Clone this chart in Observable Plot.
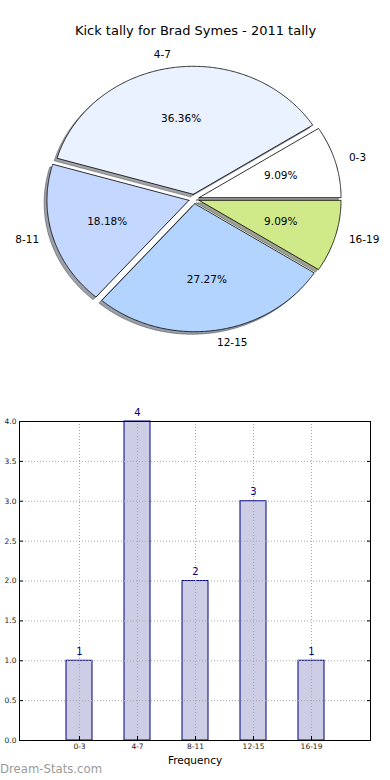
<!DOCTYPE html>
<html>
<head>
<meta charset="utf-8">
<script src="https://cdn.jsdelivr.net/npm/d3@7"></script>
<script src="https://cdn.jsdelivr.net/npm/@observablehq/plot@0.6"></script>
<style>
  body { margin: 0; background: white; font-family: "DejaVu Sans", sans-serif; }
  #wrap { position: relative; width: 390px; height: 780px; overflow: hidden; }
  #wrap svg { display: block; }
  #mark { position: absolute; left: 0; top: 762px; font: 11.7px "DejaVu Sans", sans-serif; color: #9a9a9a; }
</style>
</head>
<body>
<div id="wrap"></div>
<script>
// ---- data ----
const title = "Kick tally for Brad Symes - 2011 tally";
const categories = ["0-3", "4-7", "8-11", "12-15", "16-19"];
const counts = [1, 4, 2, 3, 1];
const pieColors = ["#ffffff", "#eaf1ff", "#c4d8ff", "#b3d4ff", "#d0ea8a"];
const yTicks = [0, 0.5, 1, 1.5, 2, 2.5, 3, 3.5, 4];
const xLabel = "Frequency";
const watermark = "Dream-Stats.com";

const font = "DejaVu Sans, sans-serif";
const total = d3.sum(counts);

// ---- pie geometry (unit circle, counterclockwise from 3 o'clock) ----
const explode = 0.037;
let acc = 0;
const slices = categories.map((cat, i) => {
  const a0 = acc / total * 2 * Math.PI;
  acc += counts[i];
  const a1 = acc / total * 2 * Math.PI;
  const mid = (a0 + a1) / 2;
  const ox = explode * Math.cos(mid), oy = explode * Math.sin(mid);
  const n = Math.max(2, Math.ceil((a1 - a0) / (Math.PI / 360)));
  const pts = [{x: ox, y: oy}];
  for (let k = 0; k <= n; k++) {
    const a = a0 + (a1 - a0) * k / n;
    pts.push({x: ox + Math.cos(a), y: oy + Math.sin(a)});
  }
  pts.push({x: ox, y: oy});
  return {
    cat, color: pieColors[i], pts, mid, ox, oy,
    pct: (counts[i] / total * 100).toFixed(2) + "%"
  };
});

function darker(c) {
  const r = d3.rgb(c);
  return d3.rgb(r.r * 0.3, r.g * 0.3, r.b * 0.3).formatHex();
}
const shOff = 0.02;

const pieMarks = [];
slices.forEach(s => {
  pieMarks.push(Plot.line(s.pts, {
    x: d => d.x + (-shOff), y: d => d.y + (-shOff),
    fill: darker(s.color), fillOpacity: 0.5, stroke: darker(s.color), strokeOpacity: 0.5, strokeWidth: 1
  }));
});
slices.forEach(s => {
  pieMarks.push(Plot.line(s.pts, {
    x: "x", y: "y", fill: s.color, stroke: "black", strokeWidth: 0.8, strokeLinejoin: "miter"
  }));
});
pieMarks.push(Plot.text(slices, {
  x: s => s.ox + 0.6 * Math.cos(s.mid), y: s => s.oy + 0.6 * Math.sin(s.mid),
  text: "pct", fontSize: 10.5, fill: "black", textAnchor: "middle"
}));
pieMarks.push(Plot.text(slices.filter(s => Math.cos(s.mid) > 0), {
  x: s => s.ox + 1.1 * Math.cos(s.mid), y: s => s.oy + 1.1 * Math.sin(s.mid),
  text: "cat", fontSize: 10.5, fill: "black", textAnchor: "start"
}));
pieMarks.push(Plot.text(slices.filter(s => Math.cos(s.mid) <= 0), {
  x: s => s.ox + 1.1 * Math.cos(s.mid), y: s => s.oy + 1.1 * Math.sin(s.mid),
  text: "cat", fontSize: 10.5, fill: "black", textAnchor: "end"
}));
pieMarks.push(Plot.text([title], {
  frameAnchor: "top", dy: 30, lineAnchor: "middle", fontSize: 13, fill: "black"
}));

// center at (193.5, 198.5), rx 142, ry 128
const cx = 193.5, cy = 198.5, rx = 142, ry = 128, pieH = 400;
const pie = Plot.plot({
  width: 390, height: pieH, margin: 0,
  style: {fontFamily: font, background: "white", overflow: "visible"},
  x: {domain: [-cx / rx, (390 - cx) / rx], axis: null},
  y: {domain: [(cy - pieH) / ry, cy / ry], axis: null},
  marks: pieMarks
});

// ---- bar chart ----
const barData = categories.map((c, i) => ({cat: c, count: counts[i]}));
const gridStyle = {stroke: "#a8a8a8", strokeOpacity: 1, strokeWidth: 1, strokeDasharray: "1,2"};
const bar = Plot.plot({
  width: 390, height: 380,
  marginLeft: 19, marginRight: 20, marginTop: 21, marginBottom: 40,
  style: {fontFamily: font, background: "white", overflow: "visible"},
  x: {domain: categories, paddingInner: 0.555, paddingOuter: 0.7775, align: 0.5},
  y: {domain: [0, 4]},
  marks: [
    Plot.barY(barData, {x: "cat", y: "count", fill: "#cdcde5", stroke: "#000080", strokeWidth: 1}),
    Plot.gridX(categories, gridStyle),
    Plot.gridY(yTicks, gridStyle),
    Plot.frame({stroke: "black", strokeWidth: 1}),
    Plot.axisY(yTicks, {tickFormat: d3.format(".1f"), tickSize: -4, tickPadding: 7, fontSize: 7.5, fill: "#222", label: null}),
    Plot.axisY(yTicks, {anchor: "right", tickSize: -4, tickFormat: () => "", label: null}),
    Plot.axisX(categories, {tickSize: -4, tickPadding: 7, fontSize: 7.5, fill: "#222", label: null}),
    Plot.text(barData, {x: "cat", y: "count", text: d => String(d.count), dy: -9, fill: "#000080", fontSize: 10}),
    Plot.text([xLabel], {frameAnchor: "bottom", dy: 20, lineAnchor: "middle", fontSize: 10.5, fill: "black"})
  ]
});

const wrap = document.getElementById("wrap");
wrap.appendChild(pie);
wrap.appendChild(bar);
const wm = document.createElement("div");
wm.id = "mark";
wm.textContent = watermark;
wrap.appendChild(wm);
</script>
</body>
</html>
